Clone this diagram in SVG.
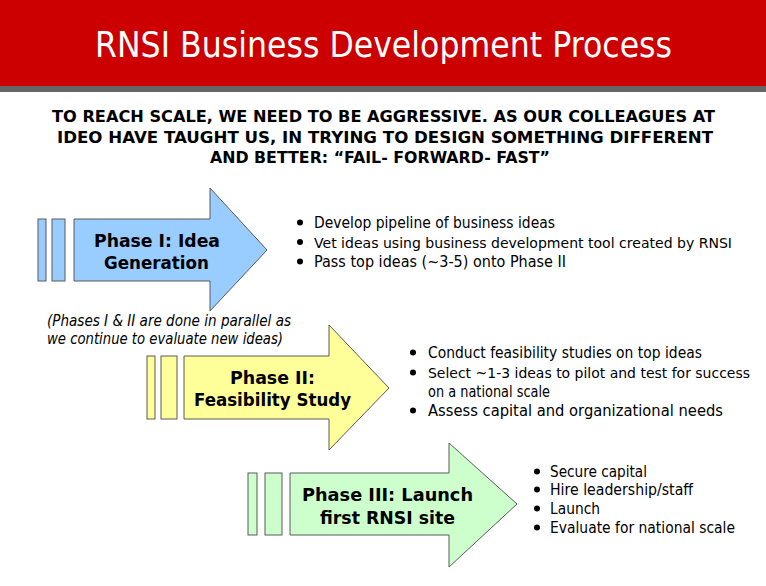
<svg xmlns="http://www.w3.org/2000/svg" width="766" height="586" viewBox="0 0 766 586">
<style>
.title{font-family:"DejaVu Sans",Verdana,sans-serif;font-size:35px;fill:#fff}
.sub{font-family:"DejaVu Sans",Verdana,sans-serif;font-size:16px;font-weight:bold;fill:#000}
.ph{font-family:"DejaVu Sans",Verdana,sans-serif;font-size:17px;font-weight:bold;fill:#000}
.bl{font-family:"DejaVu Sans",Verdana,sans-serif;font-size:15.5px;fill:#000}
.bls{font-size:14px}
.note{font-family:"DejaVu Sans",Verdana,sans-serif;font-size:15px;font-style:italic;fill:#000}
.dot{fill:#000}
.shape{stroke:#5a5a5a;stroke-width:1}
.p1{fill:#99CCFF}
.p2{fill:#FFFF99}
.p3{fill:#CCFFCC}
</style>
<rect x="0" y="0" width="766" height="586" fill="#fff"/>
<g id="header">
<rect x="0" y="0" width="766" height="86" fill="#CC0000"/>
<rect x="0" y="86" width="766" height="6" fill="#666666"/>
<text class="title" x="95" y="57" textLength="577" lengthAdjust="spacingAndGlyphs">RNSI Business Development Process</text>
</g>
<g id="subtitle">
<text class="sub" x="52" y="122" textLength="663" lengthAdjust="spacingAndGlyphs">TO REACH SCALE, WE NEED TO BE AGGRESSIVE. AS OUR COLLEAGUES AT</text>
<text class="sub" x="57" y="142.5" textLength="656" lengthAdjust="spacingAndGlyphs">IDEO HAVE TAUGHT US, IN TRYING TO DESIGN SOMETHING DIFFERENT</text>
<text class="sub" x="210" y="163" textLength="340" lengthAdjust="spacingAndGlyphs">AND BETTER: “FAIL- FORWARD- FAST”</text>
</g>
<g id="phase1">
<rect class="shape p1" x="38" y="219" width="8" height="62"/>
<rect class="shape p1" x="52" y="219" width="13" height="62"/>
<polygon class="shape p1" points="74,219 210,219 210,188 267,250 210,311 210,281 74,281"/>
<text class="ph" x="94" y="247" textLength="126" lengthAdjust="spacingAndGlyphs">Phase I: Idea</text>
<text class="ph" x="104" y="269" textLength="105" lengthAdjust="spacingAndGlyphs">Generation</text>
</g>
<g id="phase1-bullets">
<circle class="dot" cx="300" cy="222.5" r="3"/>
<circle class="dot" cx="300" cy="242" r="3"/>
<circle class="dot" cx="300" cy="261.5" r="3"/>
<text class="bl" x="314" y="228" textLength="241" lengthAdjust="spacingAndGlyphs">Develop pipeline of business ideas</text>
<text class="bl bls" x="314" y="247.5" textLength="418" lengthAdjust="spacingAndGlyphs">Vet ideas using business development tool created by RNSI</text>
<text class="bl" x="314" y="267" textLength="252" lengthAdjust="spacingAndGlyphs">Pass top ideas (~3-5) onto Phase II</text>
</g>
<g id="note">
<text class="note" x="47" y="326" textLength="244" lengthAdjust="spacingAndGlyphs">(Phases I &amp; II are done in parallel as</text>
<text class="note" x="47" y="344" textLength="236" lengthAdjust="spacingAndGlyphs">we continue to evaluate new ideas)</text>
</g>
<g id="phase2">
<rect class="shape p2" x="147" y="356" width="8" height="63"/>
<rect class="shape p2" x="161" y="356" width="16" height="63"/>
<polygon class="shape p2" points="184,356 329,356 329,325 389,388 329,450 329,419 184,419"/>
<text class="ph" x="230" y="384" textLength="85" lengthAdjust="spacingAndGlyphs">Phase II:</text>
<text class="ph" x="194" y="406" textLength="157" lengthAdjust="spacingAndGlyphs">Feasibility Study</text>
</g>
<g id="phase2-bullets">
<circle class="dot" cx="413" cy="352.5" r="3"/>
<circle class="dot" cx="413" cy="372.5" r="3"/>
<circle class="dot" cx="413" cy="410.5" r="3"/>
<text class="bl" x="428" y="358" textLength="274" lengthAdjust="spacingAndGlyphs">Conduct feasibility studies on top ideas</text>
<text class="bl bls" x="428" y="378" textLength="322" lengthAdjust="spacingAndGlyphs">Select ~1-3 ideas to pilot and test for success</text>
<text class="bl" x="428" y="397" textLength="122" lengthAdjust="spacingAndGlyphs">on a national scale</text>
<text class="bl" x="428" y="416" textLength="295" lengthAdjust="spacingAndGlyphs">Assess capital and organizational needs</text>
</g>
<g id="phase3">
<rect class="shape p3" x="248" y="473" width="9" height="62"/>
<rect class="shape p3" x="265" y="473" width="17" height="62"/>
<polygon class="shape p3" points="290,473 449,473 449,443 517,504 449,567 449,535 290,535"/>
<text class="ph" x="302" y="501" textLength="171" lengthAdjust="spacingAndGlyphs">Phase III: Launch</text>
<text class="ph" x="320" y="524" textLength="135" lengthAdjust="spacingAndGlyphs">first RNSI site</text>
</g>
<g id="phase3-bullets">
<circle class="dot" cx="537" cy="471.5" r="3"/>
<circle class="dot" cx="537" cy="489.5" r="3"/>
<circle class="dot" cx="537" cy="508.5" r="3"/>
<circle class="dot" cx="537" cy="527.5" r="3"/>
<text class="bl" x="550" y="477" textLength="97" lengthAdjust="spacingAndGlyphs">Secure capital</text>
<text class="bl" x="550" y="495" textLength="143" lengthAdjust="spacingAndGlyphs">Hire leadership/staff</text>
<text class="bl" x="550" y="514" textLength="50" lengthAdjust="spacingAndGlyphs">Launch</text>
<text class="bl" x="550" y="533" textLength="185" lengthAdjust="spacingAndGlyphs">Evaluate for national scale</text>
</g>
<g id="connectors"></g>
</svg>
